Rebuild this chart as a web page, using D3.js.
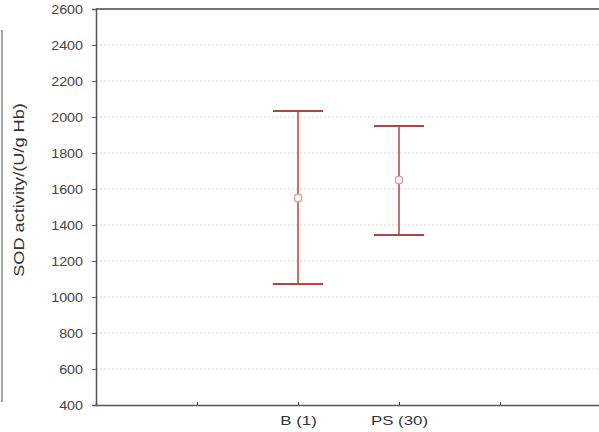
<!DOCTYPE html>
<html>
<head>
<meta charset="utf-8">
<script src="https://cdn.jsdelivr.net/npm/d3@7"></script>
<style>
  body { margin: 0; background: #fff; }
  svg { display: block; font-family: "Liberation Sans", Arial, sans-serif; }
</style>
</head>
<body>
<script>
const categories = ['', 'B (1)', 'PS (30)', ''];
const means = [null, 1550, 1650, null];
const upper = [null, 2033, 1950, null];
const lower = [null, 1072, 1344, null];
const yTicks = [400, 600, 800, 1000, 1200, 1400, 1600, 1800, 2000, 2200, 2400, 2600];

const width = 599;
const height = 432;
const margin = {top: 9, right: -2, bottom: 27, left: 96};

const svg = d3.select('body')
  .append('svg')
    .attr('width', width)
    .attr('height', height);

const x = d3.scalePoint()
  .domain(d3.range(categories.length))
  .range([margin.left, width - margin.right])
  .padding(1);

const y = d3.scaleLinear()
  .domain([400, 2600])
  .range([height - margin.bottom, margin.top]);

// faint left border line
svg.append('line')
  .attr('x1', 2).attr('x2', 2)
  .attr('y1', 30).attr('y2', 402)
  .attr('stroke', '#888').attr('stroke-width', 1.5);

// gridlines
svg.append('g')
  .selectAll('line')
  .data(yTicks.slice(1, -1))
  .join('line')
    .attr('x1', margin.left).attr('x2', width)
    .attr('y1', d => y(d)).attr('y2', d => y(d))
    .attr('stroke', '#d8d8e0')
    .attr('stroke-dasharray', '2,2');

// y axis
const yAxis = svg.append('g')
  .attr('transform', `translate(${margin.left},0)`)
  .call(d3.axisLeft(y).tickValues(yTicks).tickFormat(d3.format('d')).tickSize(4).tickPadding(0));
yAxis.select('.domain').attr('stroke', '#555').attr('stroke-width', 1.5);
yAxis.selectAll('.tick line').attr('stroke', '#555');
yAxis.selectAll('.tick text')
  .attr('x', null)
  .attr('font-size', 13).attr('fill', '#444')
  .attr('font-family', '"Liberation Sans", Arial, sans-serif')
  .attr('transform', 'translate(-13,0) scale(1.1,1)');

// x axis
const xAxis = svg.append('g')
  .attr('transform', `translate(0,${y(400)})`)
  .call(d3.axisBottom(x).tickFormat(i => categories[i]).tickSize(-3).tickPadding(10));
xAxis.select('.domain').attr('stroke', '#555').attr('stroke-width', 1.5);
xAxis.selectAll('.tick line').attr('stroke', '#444');
xAxis.selectAll('.tick text')
  .attr('font-size', 13.5).attr('fill', '#333')
  .attr('font-family', '"Liberation Sans", Arial, sans-serif')
  .attr('transform', 'scale(1.25,1)');

// top frame
svg.append('line')
  .attr('x1', margin.left).attr('x2', width)
  .attr('y1', y(2600)).attr('y2', y(2600))
  .attr('stroke', '#444').attr('stroke-width', 1.5);

// y axis label
svg.append('text')
  .attr('transform', `translate(24,190) rotate(-90) scale(1.3,1)`)
  .attr('text-anchor', 'middle')
  .attr('font-size', 14)
  .attr('fill', '#333')
  .text('SOD activity/(U/g Hb)');

// error bars
const idx = d3.range(categories.length).filter(i => means[i] != null);
const red = '#b4443f';
const cap = 25;
const bars = svg.append('g').selectAll('g')
  .data(idx)
  .join('g');

bars.append('line')
  .attr('x1', i => x(i)).attr('x2', i => x(i))
  .attr('y1', i => y(upper[i])).attr('y2', i => y(lower[i]))
  .attr('stroke', red).attr('stroke-width', 1.5);

bars.append('line')
  .attr('x1', i => x(i) - cap).attr('x2', i => x(i) + cap)
  .attr('y1', i => y(upper[i])).attr('y2', i => y(upper[i]))
  .attr('stroke', red).attr('stroke-width', 2);

bars.append('line')
  .attr('x1', i => x(i) - cap).attr('x2', i => x(i) + cap)
  .attr('y1', i => y(lower[i])).attr('y2', i => y(lower[i]))
  .attr('stroke', red).attr('stroke-width', 2);

bars.append('rect')
  .attr('x', i => x(i) - 3.5).attr('y', i => y(means[i]) - 3.5)
  .attr('width', 7).attr('height', 7)
  .attr('rx', 2)
  .attr('fill', '#fff')
  .attr('stroke', '#d9a89a')
  .attr('stroke-width', 1.5);
</script>
</body>
</html>
